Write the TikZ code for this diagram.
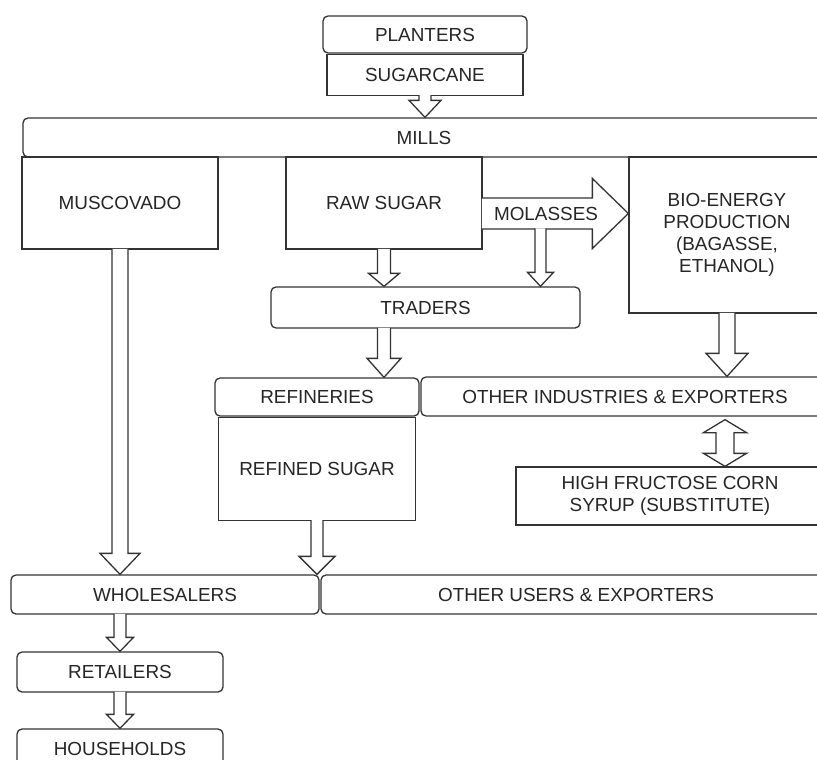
\documentclass[tikz,border=0pt]{standalone}
\usepackage{fontspec}
\setmainfont{Liberation Sans}
\usetikzlibrary{positioning, calc}

% block arrow pointing down: from, tip, shaft half width, head half width, head length
\newcommand{\blockdown}[5]{%
  \draw[flow] ($(#1)+(-#3pt,0.8pt)$) -- ($(#2)+(-#3pt,#5pt)$) -- ($(#2)+(-#4pt,#5pt)$) -- (#2)
    -- ($(#2)+(#4pt,#5pt)$) -- ($(#2)+(#3pt,#5pt)$) -- ($(#1)+(#3pt,0.8pt)$);}

\begin{document}
\begin{tikzpicture}[
        x=1pt, y=-1pt,
        font=\fontsize{18.9}{22}\selectfont,
        every node/.style={text=black!85},
        box/.style={draw=black!80, line width=1.3pt, inner sep=0pt, align=center},
        rbox/.style={box, rounded corners=5pt},
        flow/.style={draw=black!80, line width=1.3pt, fill=white, line join=miter}
    ]
        \fill[white] (0,0) rectangle (817,760);
        \useasboundingbox (0,0) rectangle (817,760);
        \clip (0,0) rectangle (817,760);

        % Nodes
        \node[rbox, minimum width=204pt, minimum height=37pt] (planters) at (425,34.5) {PLANTERS};
        \node[box, minimum width=196pt, minimum height=41pt, below=0pt of planters] (sugarcane) {SUGARCANE};
        \node[rbox, minimum width=802pt, minimum height=39pt] (mills) at (424,137.5) {MILLS};
        \node[box, minimum width=196pt, minimum height=92pt] (muscovado) at (120,203) {MUSCOVADO};
        \node[box, minimum width=196pt, minimum height=92pt] (rawSugar) at (384,203) {RAW SUGAR};
        \node[box, minimum width=196pt, minimum height=156pt] (bioEnergy) at (727,235) {BIO-ENERGY\\PRODUCTION\\(BAGASSE,\\ETHANOL)};
        \node[rbox, minimum width=309pt, minimum height=41pt] (traders) at (425.5,307.5) {TRADERS};
        \node[rbox, minimum width=204pt, minimum height=38pt] (refineries) at (317,397) {REFINERIES};
        \node[rbox, minimum width=408pt, minimum height=39pt] (otherInd) at (625,396.5) {OTHER INDUSTRIES \& EXPORTERS};
        \node[box, minimum width=197pt, minimum height=103pt, below=0pt of refineries] (refinedSugar) {REFINED SUGAR};
        \node[box, minimum width=308pt, minimum height=58pt] (hfcs) at (670,496) {HIGH FRUCTOSE CORN\\SYRUP (SUBSTITUTE)};
        \node[rbox, minimum width=308pt, minimum height=39pt] (wholesalers) at (165,594.5) {WHOLESALERS};
        \node[rbox, minimum width=510pt, minimum height=39pt] (otherUsers) at (576,594.5) {OTHER USERS \& EXPORTERS};
        \node[rbox, minimum width=206pt, minimum height=40pt] (retailers) at (120,672) {RETAILERS};
        \node[rbox, minimum width=206pt, minimum height=40pt] (households) at (120,749) {HOUSEHOLDS};

        % Arrow ends
        \coordinate (tipMills) at (sugarcane.south |- mills.north);
        \coordinate (tipMusc) at (muscovado.south |- wholesalers.north);
        \coordinate (tipRaw) at (rawSugar.south |- traders.north);
        \coordinate (trFoot) at (rawSugar.south |- traders.south);
        \coordinate (tipRef) at (rawSugar.south |- refineries.north);
        \coordinate (tipBio) at (bioEnergy.south |- otherInd.north);
        \coordinate (tipRefd) at (refinedSugar.south |- wholesalers.north);
        \coordinate (whFoot) at (retailers.north |- wholesalers.south);

        % Flows
        \blockdown{sugarcane.south}{tipMills}{6}{16}{17}
        \blockdown{muscovado.south}{tipMusc}{8}{20}{21}
        \blockdown{rawSugar.south}{tipRaw}{6.5}{15.5}{13}
        \blockdown{trFoot}{tipRef}{6.5}{17}{19}
        \blockdown{bioEnergy.south}{tipBio}{8}{21}{23}
        \blockdown{refinedSugar.south}{tipRefd}{6}{18}{18}
        \blockdown{whFoot}{retailers.north}{6}{13.5}{14}
        \blockdown{retailers.south}{households.north}{6}{13.5}{14}

        % Molasses
        \node[minimum height=31pt, inner sep=0pt] (molasses) at (546,213.5) {};
        \coordinate (molStart) at (rawSugar.east |- molasses);
        \coordinate (molTip) at (bioEnergy.west |- molasses);
        \draw[flow] ($(molStart)+(-0.8pt,15.5pt)$) -- ($(molTip)+(-36pt,15.5pt)$) -- ($(molTip)+(-36pt,35pt)$) -- (molTip)
            -- ($(molTip)+(-36pt,-35pt)$) -- ($(molTip)+(-36pt,-15.5pt)$) -- ($(molStart)+(-0.8pt,-15.5pt)$);
        \node at (molasses) {MOLASSES};
        \coordinate (molFoot) at ($(molasses.south)+(-5.5pt,0)$);
        \coordinate (tipMol) at (molFoot |- traders.north);
        \blockdown{molFoot}{tipMol}{5.5}{13}{14}

        % Substitute
        \coordinate (dTop) at ($(bioEnergy.south |- otherInd.south)+(-2pt,-3pt)$);
        \coordinate (dBot) at ($(bioEnergy.south |- hfcs.north)+(-2pt,0)$);
        \draw[flow] (dTop) -- ($(dTop)+(21.5pt,-13pt)$) -- ($(dTop)+(9pt,-13pt)$) -- ($(dBot)+(9pt,13pt)$)
            -- ($(dBot)+(21.5pt,13pt)$) -- (dBot) -- ($(dBot)+(-21.5pt,13pt)$) -- ($(dBot)+(-9pt,13pt)$)
            -- ($(dTop)+(-9pt,-13pt)$) -- ($(dTop)+(-21.5pt,-13pt)$) -- cycle;
    \end{tikzpicture}
\end{document}
